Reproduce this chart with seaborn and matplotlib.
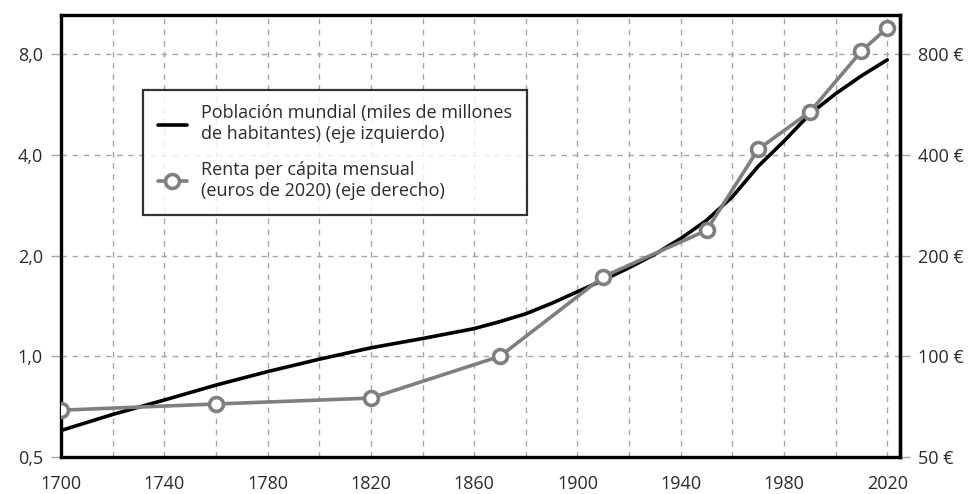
import numpy as np
import pandas as pd
import matplotlib
matplotlib.use("Agg")
import matplotlib.pyplot as plt
import seaborn as sns

# World population (billions)
pop_years = [1700, 1720, 1740, 1760, 1780, 1800, 1820, 1840, 1860, 1870, 1880,
             1890, 1900, 1910, 1920, 1930, 1940, 1950, 1960, 1970, 1980,
             1990, 2000, 2010, 2020]
pop_values = [0.60, 0.67, 0.74, 0.82, 0.90, 0.98, 1.06, 1.13, 1.21, 1.27, 1.34,
              1.44, 1.56, 1.69, 1.84, 2.02, 2.25, 2.55, 3.0, 3.7, 4.4,
              5.3, 6.1, 6.9, 7.7]

# Monthly income per capita (2020 euros), the grey markers
inc_years = [1700, 1760, 1820, 1870, 1910, 1950, 1970, 1990, 2010, 2020]
inc_values = [69, 72, 75, 100, 173, 238, 416, 538, 818, 960]

left_ticks = [0.5, 1.0, 2.0, 4.0, 8.0]
left_labels = ["0,5", "1,0", "2,0", "4,0", "8,0"]
right_ticks = [50, 100, 200, 400, 800]
right_labels = ["50 €", "100 €", "200 €", "400 €", "800 €"]
x_ticks = list(range(1700, 2021, 20))

sns.set_style("white")
plt.rcParams["font.family"] = ["Open Sans", "DejaVu Sans"]

pop = pd.DataFrame({"year": pop_years, "value": pop_values})
inc = pd.DataFrame({"year": inc_years, "value": inc_values})

fig = plt.figure(figsize=(9.69, 4.94), dpi=100)
ax = fig.add_axes([0.063, 0.075, 0.866, 0.895])
ax2 = ax.twinx()

sns.lineplot(data=pop, x="year", y="value", ax=ax, color="black", lw=2.6,
             label="Población mundial (miles de millones\nde habitantes) (eje izquierdo)",
             legend=False)
sns.lineplot(data=inc, x="year", y="value", ax=ax2, color="#7f7f7f", lw=2.6,
             marker="o", markersize=10, markerfacecolor="white",
             markeredgecolor="#7f7f7f", markeredgewidth=2.6,
             label="Renta per cápita mensual\n(euros de 2020) (eje derecho)",
             legend=False)

ax.set_yscale("log", base=2)
ax2.set_yscale("log", base=2)
ax.set_ylim(0.5, 10.5)
ax2.set_ylim(50, 1050)
ax.set_xlim(1700, 2025)

ax.set_yticks(left_ticks)
ax.set_yticklabels(left_labels)
ax.minorticks_off()
ax2.set_yticks(right_ticks)
ax2.set_yticklabels(right_labels)
ax2.minorticks_off()
ax.set_xticks(x_ticks)
ax.set_xticklabels([str(y) if (y - 1700) % 40 == 0 else "" for y in x_ticks])

ax.set_xlabel("")
ax.set_ylabel("")
ax2.set_ylabel("")

ax.grid(True, which="major", color="#a5a5a5", linestyle=(0, (4, 4)), lw=1.0)
ax.set_axisbelow(True)

for a in (ax, ax2):
    for s in a.spines.values():
        s.set_color("black")
        s.set_linewidth(2.4)
    a.tick_params(colors="#a5a5a5", labelcolor="#2b2b2b", labelsize=13,
                  length=7, width=1, pad=6)
ax2.spines["top"].set_visible(False)
ax2.spines["left"].set_visible(False)
ax2.spines["bottom"].set_visible(False)

h1, l1 = ax.get_legend_handles_labels()
h2, l2 = ax2.get_legend_handles_labels()
leg = ax2.legend(h1 + h2, l1 + l2, loc="upper left",
                 bbox_to_anchor=(0.098, 0.830), borderaxespad=0,
                 frameon=True, fancybox=False,
                 fontsize=13, handlelength=1.6, labelspacing=1.0,
                 borderpad=0.8, labelcolor="#2b2b2b")
leg.get_frame().set_edgecolor("black")
leg.get_frame().set_linewidth(1.6)

fig.savefig("out.png", dpi=100)
